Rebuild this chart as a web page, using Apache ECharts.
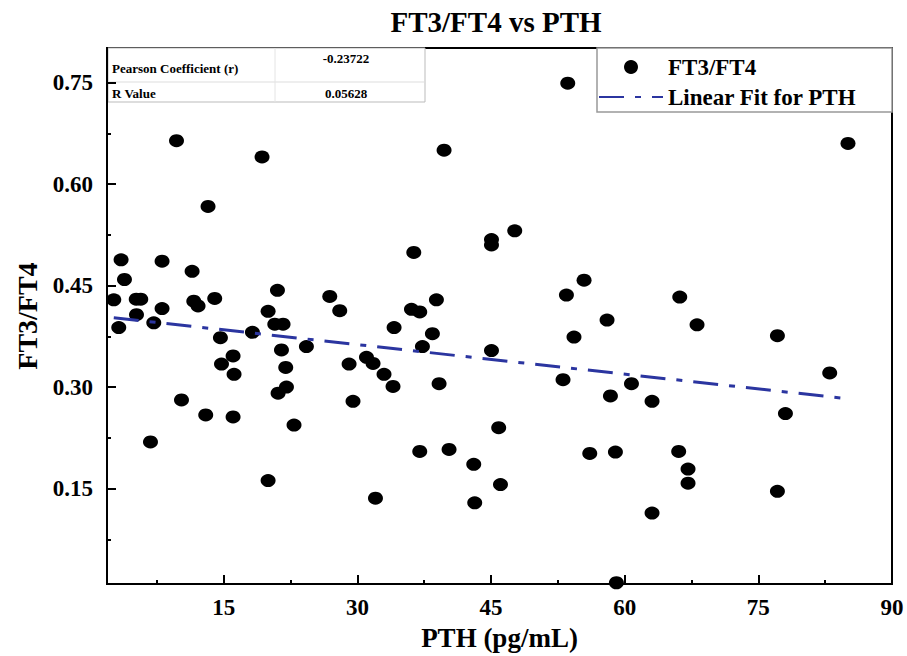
<!DOCTYPE html>
<html>
<head>
<meta charset="utf-8">
<script src="https://cdn.jsdelivr.net/npm/echarts@6/dist/echarts.min.js"></script>
<style>
  html, body { margin: 0; padding: 0; background: #fff; }
  #chart { width: 907px; height: 656px; }
</style>
</head>
<body>
<div id="chart"></div>
<script>
const pthValues = [
  3.48, 8.08, 11.45, 3.86, 2.66, 5.18, 5.69, 8.08, 11.64, 12.12, 13.99, 5.21, 3.22,
  7.15, 14.63, 9.70, 19.30, 13.24, 21.03, 19.98, 20.73, 21.66, 18.22, 21.48, 16.05,
  14.75, 16.16, 21.96, 22.04, 21.10, 10.26, 12.98, 16.05, 22.89, 6.78, 19.98, 24.28,
  39.73, 47.66, 45.05, 45.05, 36.33, 26.90, 28.02, 36.07, 37.00, 38.87, 34.12, 38.42,
  37.30, 45.05, 29.07, 31.02, 31.76, 32.99, 34.00, 39.17, 29.51, 45.86, 37.00, 40.29,
  43.06, 46.06, 32.03, 43.17,
  53.61, 85.06, 55.44, 53.46, 66.18, 58.02, 68.12, 54.31, 77.14, 53.08, 60.76, 58.40,
  63.07, 83.01, 78.04, 56.08, 58.96, 66.06, 67.11, 67.11, 77.14, 63.07, 59.07
]
const ratioValues = [
  0.488, 0.486, 0.471, 0.459, 0.429, 0.430, 0.430, 0.416, 0.427, 0.420, 0.431, 0.407, 0.388,
  0.395, 0.373, 0.664, 0.640, 0.567, 0.443, 0.412, 0.393, 0.393, 0.381, 0.355, 0.346,
  0.334, 0.319, 0.329, 0.300, 0.291, 0.281, 0.259, 0.256, 0.244, 0.219, 0.162, 0.360,
  0.650, 0.531, 0.518, 0.510, 0.499, 0.434, 0.413, 0.415, 0.411, 0.429, 0.388, 0.379,
  0.360, 0.354, 0.334, 0.344, 0.335, 0.319, 0.301, 0.305, 0.279, 0.240, 0.205, 0.208,
  0.186, 0.156, 0.136, 0.129,
  0.749, 0.660, 0.458, 0.436, 0.433, 0.399, 0.392, 0.374, 0.376, 0.311, 0.305, 0.287,
  0.279, 0.321, 0.261, 0.202, 0.204, 0.205, 0.179, 0.158, 0.146, 0.114, 0.011
]

// linear fit
const fitIntercept = 0.4064
const fitSlope = -0.001454
const pearsonR = '-0.23722'
const rValue = '0.05628'

const xMajorTicks = [15, 30, 45, 60, 75, 90]
const xMinorTicks = [7.5, 22.5, 37.5, 52.5, 67.5, 82.5]
const yMajorTicks = [0.15, 0.30, 0.45, 0.60, 0.75]
const yMinorTicks = [0.075, 0.225, 0.375, 0.525, 0.675]
const xRange = [1.9, 90]
const yRange = [0.009, 0.801]

const serif = '"Liberation Serif", "Times New Roman", serif'
const black = '#000'
const fitColor = '#2B35A0'

const scatterData = pthValues.map((x, i) => [x, ratioValues[i]])
const fitStart = Math.min(...pthValues)
const fitEnd = Math.max(...pthValues)
const fitData = [fitStart, fitEnd].map((x) => [x, fitIntercept + fitSlope * x])

const tickLine = { color: black, width: 2 }

const majorX = {
  type: 'value',
  min: xRange[0],
  max: xRange[1],
  name: 'PTH (pg/mL)',
  nameLocation: 'middle',
  nameGap: 37,
  nameTextStyle: { fontFamily: serif, fontWeight: 'bold', fontSize: 27, color: black },
  axisLine: { show: true, lineStyle: tickLine },
  axisTick: { show: true, inside: true, length: 9, lineStyle: tickLine, customValues: xMajorTicks },
  axisLabel: {
    customValues: xMajorTicks,
    margin: 12,
    fontFamily: serif,
    fontWeight: 'bold',
    fontSize: 23,
    color: black,
  },
  splitLine: { show: false },
}
const minorX = {
  type: 'value',
  min: xRange[0],
  max: xRange[1],
  position: 'bottom',
  axisLine: { show: false },
  axisTick: { show: true, inside: true, length: 4, lineStyle: tickLine, customValues: xMinorTicks },
  axisLabel: { show: false },
  splitLine: { show: false },
}
const majorY = {
  type: 'value',
  min: yRange[0],
  max: yRange[1],
  name: 'FT3/FT4',
  nameLocation: 'middle',
  nameGap: 64,
  nameTextStyle: { fontFamily: serif, fontWeight: 'bold', fontSize: 28, color: black },
  axisLine: { show: true, lineStyle: tickLine },
  axisTick: { show: true, inside: true, length: 9, lineStyle: tickLine, customValues: yMajorTicks },
  axisLabel: {
    customValues: yMajorTicks,
    margin: 14,
    formatter: (v) => v.toFixed(2),
    fontFamily: serif,
    fontWeight: 'bold',
    fontSize: 23,
    color: black,
  },
  splitLine: { show: false },
}
const minorY = {
  type: 'value',
  min: yRange[0],
  max: yRange[1],
  position: 'left',
  axisLine: { show: false },
  axisTick: { show: true, inside: true, length: 4, lineStyle: tickLine, customValues: yMinorTicks },
  axisLabel: { show: false },
  splitLine: { show: false },
}

const cellText = (text, x, y, align) => ({
  type: 'text',
  x,
  y,
  style: {
    text,
    fill: black,
    font: 'bold 13px ' + serif,
    align,
    verticalAlign: 'middle',
  },
})

const option = {
  backgroundColor: '#fff',
  animation: false,
  title: {
    text: 'FT3/FT4 vs PTH',
    left: 491,
    top: 2,
    textAlign: 'center',
    textStyle: { fontFamily: serif, fontWeight: 'bold', fontSize: 29, color: black },
  },
  grid: {
    left: 107,
    right: 15,
    top: 48,
    bottom: 68,
    show: true,
    borderColor: black,
    borderWidth: 2,
  },
  legend: {
    data: ['FT3/FT4', { name: 'Linear Fit for PTH', itemStyle: { opacity: 0 } }],
    orient: 'vertical',
    left: 598,
    top: 55,
    padding: 0,
    itemWidth: 64,
    itemHeight: 14,
    itemGap: 6,
    itemTextGap: 5,
    textStyle: { fontFamily: serif, fontWeight: 'bold', fontSize: 23, color: black, lineHeight: 24 },
  },
  graphic: [
    {
      type: 'rect',
      shape: { x: 597, y: 48, width: 295, height: 64 },
      style: { fill: '#fff', stroke: '#999', lineWidth: 1.5 },
    },
    {
      type: 'rect',
      shape: { x: 108, y: 48, width: 317, height: 54 },
      style: { fill: '#fff', stroke: '#bbb', lineWidth: 1 },
    },
    { type: 'line', shape: { x1: 108, y1: 82, x2: 425, y2: 82 }, style: { stroke: '#ddd', lineWidth: 1 } },
    { type: 'line', shape: { x1: 275, y1: 48, x2: 275, y2: 102 }, style: { stroke: '#e4e4e4', lineWidth: 1 } },
    cellText('Pearson Coefficient (r)', 112, 68, 'left'),
    cellText(pearsonR, 346, 58, 'center'),
    cellText('R Value', 112, 93, 'left'),
    cellText(rValue, 346, 93, 'center'),
  ],
  xAxis: [majorX, minorX],
  yAxis: [majorY, minorY],
  series: [
    {
      name: 'FT3/FT4',
      type: 'scatter',
      data: scatterData,
      symbol: 'circle',
      symbolSize: [15, 13],
      itemStyle: { color: black, opacity: 1 },
      z: 3,
    },
    {
      name: 'Linear Fit for PTH',
      type: 'line',
      data: fitData,
      symbol: 'none',
      itemStyle: { color: fitColor },
      lineStyle: { color: fitColor, width: 3, type: [25, 11, 6, 11] },
      z: 4,
    },
  ],
}

const chart = echarts.init(document.getElementById('chart'), null, { renderer: 'svg' })
chart.setOption(option)
</script>
</body>
</html>
